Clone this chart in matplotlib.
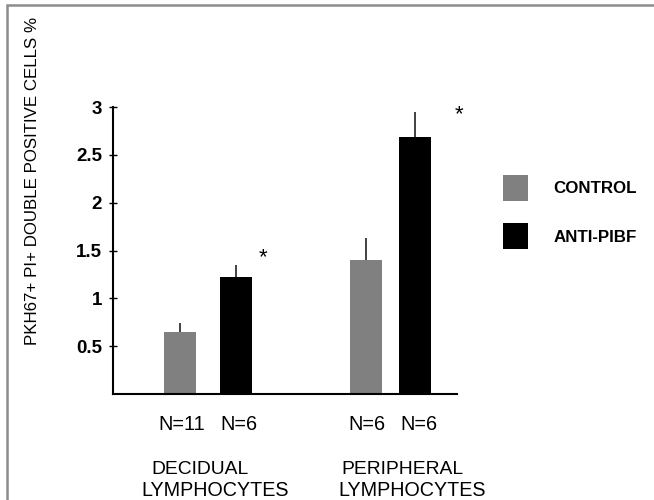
import matplotlib
matplotlib.use("Agg")
import matplotlib.pyplot as plt
from matplotlib.patches import Rectangle

plt.rcParams['font.family'] = ['Liberation Sans', 'DejaVu Sans']

# ===== data =====
group_line1 = ["DECIDUAL", "PERIPHERAL"]
group_line2 = ["LYMPHOCYTES", "LYMPHOCYTES"]
series = ["CONTROL", "ANTI-PIBF"]
control = [0.65, 1.40]
control_err = [0.09, 0.23]
anti = [1.22, 2.69]
anti_err = [0.13, 0.26]
n_control = ["N=11", "N=6"]
n_anti = ["N=6", "N=6"]
yticks = [0.5, 1, 1.5, 2, 2.5, 3]

# bar centres (bar width = 1)
pos_control = [2.1, 7.9]
pos_anti = [3.85, 9.45]
line1_x = [2.72, 9.05]
line2_x = [3.2, 9.35]
star_pos = [(4.7, 1.42), (10.8, 2.92)]

fig = plt.figure(figsize=(6.54, 5.0), dpi=100)
ax = fig.add_axes([113 / 654, 106 / 500, 344 / 654, 287 / 500])

err_kw = dict(ecolor='#333333', elinewidth=1.3, capsize=0)
ax.bar(pos_control, control, width=1.0, color='#808080',
       yerr=[[0, 0], control_err], error_kw=err_kw, label=series[0])
ax.bar(pos_anti, anti, width=1.0, color='black',
       yerr=[[0, 0], anti_err], error_kw=err_kw, label=series[1])

ax.set_xlim(0, 10.75)
ax.set_ylim(0, 3)
ax.set_yticks(yticks)
ax.set_yticklabels([f"{t:g}" for t in yticks], fontsize=13.5, fontweight='bold')
ax.tick_params(axis='y', direction='inout', length=6, width=1, pad=5)
ax.set_xticks([])
for s in ['top', 'right']:
    ax.spines[s].set_visible(False)
for s in ['left', 'bottom']:
    ax.spines[s].set_linewidth(1.5)

xa = ax.get_xaxis_transform()

# N labels under bars
for x, lab in zip(pos_control, n_control):
    ax.text(x + 0.05, -0.125, lab, transform=xa, ha='center', va='baseline', fontsize=14.3)
for x, lab in zip(pos_anti, n_anti):
    ax.text(x + 0.1, -0.125, lab, transform=xa, ha='center', va='baseline', fontsize=14.3)

# group names, two lines
for x, lab in zip(line1_x, group_line1):
    ax.text(x, -0.28, lab, transform=xa, ha='center', va='baseline', fontsize=13.9)
for x, lab in zip(line2_x, group_line2):
    ax.text(x, -0.356, lab, transform=xa, ha='center', va='baseline', fontsize=14.2)

# significance stars
for x, y in star_pos:
    ax.text(x, y, "*", ha='center', va='center', fontsize=16, clip_on=False)

fig.text(33 / 654, 1 - 181 / 500, "PKH67+ PI+ DOUBLE POSITIVE CELLS %",
         rotation=90, ha='center', va='center', fontsize=12.2)

leg = ax.legend(loc='upper left', bbox_to_anchor=(503 / 654, 1 - 175 / 500),
                bbox_transform=fig.transFigure, frameon=False,
                prop={'size': 12.2, 'weight': 'bold'},
                handlelength=1.48, handleheight=2.0, handletextpad=1.5,
                labelspacing=1.3, borderpad=0, borderaxespad=0)

# grey frame of the original image
fig.add_artist(Rectangle((7 / 654, -0.1), 1.2, 0.99 + 0.1, transform=fig.transFigure,
                         fill=False, edgecolor='#8c8c8c', linewidth=1.8))

plt.savefig('out.png', dpi=100)
